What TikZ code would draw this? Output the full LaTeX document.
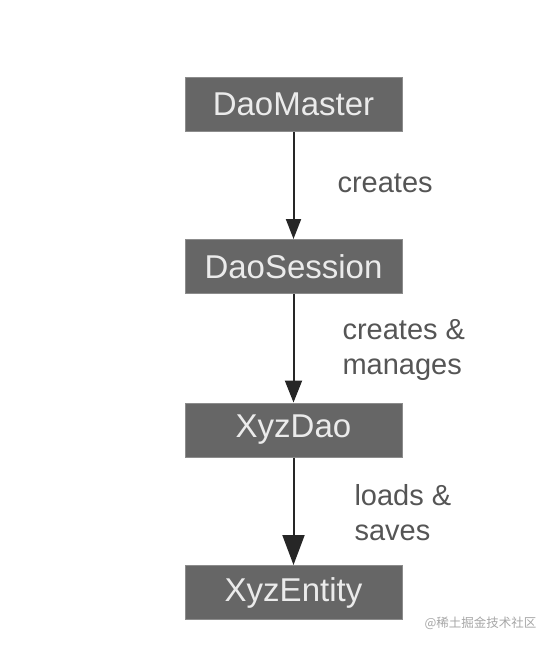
\documentclass[tikz,border=0pt]{standalone}
\usepackage{fontspec}
\setmainfont{Liberation Sans}
\newfontfamily\cjkfont{Noto Sans CJK SC}
\usetikzlibrary{arrows.meta}
\definecolor{boxGray}{HTML}{666666}
\definecolor{edgeGray}{HTML}{8C8C8C}
\definecolor{labelGray}{HTML}{555555}

\begin{document}
\begin{tikzpicture}[x=1pt, y=-1pt,
    classbox/.style={fill=boxGray, draw=edgeGray, line width=1pt,
        minimum width=217pt, minimum height=54pt, inner sep=0pt,
        text=white!92!black, font=\fontsize{33}{36}\selectfont},
    relation/.style={line width=2pt, black!85},
    relabel/.style={anchor=west, align=left, text=labelGray,
        font=\fontsize{29}{35}\selectfont}]
    \useasboundingbox (0,0) rectangle (546,646);
    % classes
    \node[classbox] (master)  at (293.5,104.5) {DaoMaster};
    \node[classbox] (session) at (293.5,266.5) {DaoSession};
    \node[classbox] (dao)     at (293.5,430)   {XyzDao};
    \node[classbox] (entity)  at (293.5,592.5) {XyzEntity};
    % relations
    \draw[relation, -{Triangle[length=20pt,width=15pt]}] (master) -- (session);
    \draw[relation, -{Triangle[length=22pt,width=17pt]}] (session) -- (dao);
    \draw[relation, -{Triangle[length=30pt,width=22pt]}] (dao) -- (entity);
    \node[relabel] (createsLabel) at (334,183) {creates};
    \node[relabel] (managesLabel) at (339,350) {creates \&\\manages};
    \node[relabel] (savesLabel)   at (351,513) {loads \&\\saves};
    % watermark
    \node[anchor=west, text=black!35, font=\cjkfont\fontsize{12.5}{14}\selectfont]
        (mark) at (421,623) {@稀土掘金技术社区};
\end{tikzpicture}
\end{document}
